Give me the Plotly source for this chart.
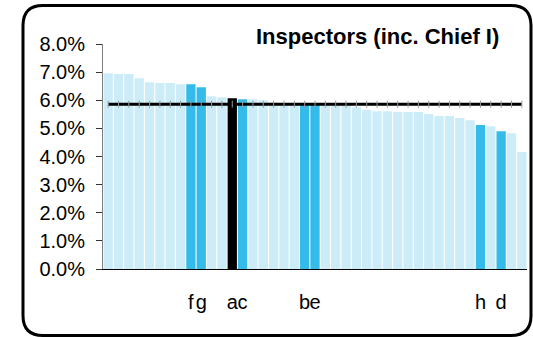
import plotly.graph_objects as go

# Inspector share per unit, sorted high to low (percent)
values = [6.96, 6.93, 6.93, 6.78, 6.64, 6.61, 6.61, 6.57, 6.57, 6.46,
          6.14, 6.11, 6.07, 6.04, 6.04, 6.00, 5.92, 5.90, 5.89, 5.88,
          5.87, 5.84, 5.83, 5.82, 5.75, 5.65, 5.61, 5.61, 5.58, 5.58,
          5.58, 5.51, 5.44, 5.44, 5.37, 5.29, 5.12, 5.08, 4.90, 4.83,
          4.16]
# Labelled units (1-based bar position -> label)
labelled = {9: "f", 10: "g", 13: "a", 14: "c", 20: "b", 21: "e", 37: "h", 39: "d"}
focus_unit = 13
average = 5.86
y_ticks = [0, 1, 2, 3, 4, 5, 6, 7, 8]
y_tick_text = ["0.0%", "1.0%", "2.0%", "3.0%", "4.0%", "5.0%", "6.0%", "7.0%", "8.0%"]
title_text = "Inspectors (inc. Chief I)"

LIGHT = "#CCECF8"
DARK = "#35BBE9"
positions = list(range(1, len(values) + 1))
colors = []
for p in positions:
    if p == focus_unit:
        colors.append("#000000")
    elif p in labelled:
        colors.append(DARK)
    else:
        colors.append(LIGHT)

W, H = 533, 337
ML, MR, MT, MB = 103, 6, 44, 68
PW, PH = W - ML - MR, H - MT - MB


def px(x):
    return (x - ML) / PW


def py(y):
    return (H - MB - y) / PH


fig = go.Figure()
fig.add_trace(go.Bar(x=positions, y=values, marker=dict(color=colors, line=dict(width=0)),
                     hoverinfo="y"))
fig.add_trace(go.Scatter(x=positions, y=[average] * len(positions), mode="lines+markers",
                         line=dict(color="#000000", width=3),
                         marker=dict(symbol="line-ns", size=5,
                                     line=dict(color="#999999", width=1)),
                         hoverinfo="y"))

# rounded frame around the whole chart
L, T, R, B, r = 23, 5.5, 531, 335.5, 20
frame = (f"M {px(L)},{py(T + r)} Q {px(L)},{py(T)} {px(L + r)},{py(T)} "
         f"L {px(R - r)},{py(T)} Q {px(R)},{py(T)} {px(R)},{py(T + r)} "
         f"L {px(R)},{py(B - r)} Q {px(R)},{py(B)} {px(R - r)},{py(B)} "
         f"L {px(L + r)},{py(B)} Q {px(L)},{py(B)} {px(L)},{py(B - r)} Z")
fig.add_shape(type="path", path=frame, xref="paper", yref="paper",
              line=dict(color="#000000", width=3), layer="below")

fig.add_annotation(text=f"<b>{title_text}</b>", xref="paper", yref="paper",
                   x=px(501), y=py(36), xanchor="right", yanchor="middle",
                   showarrow=False, font=dict(size=22, color="#000000"))

tick_pos = sorted(labelled)
fig.update_layout(
    width=W, height=H, margin=dict(l=ML, r=MR, t=MT, b=MB),
    paper_bgcolor="#FFFFFF", plot_bgcolor="#FFFFFF",
    font=dict(family="Liberation Sans, Arial, sans-serif", size=20, color="#000000"),
    showlegend=False, bargap=0.1,
    xaxis=dict(range=[0.5, len(values) + 0.5], tickvals=tick_pos,
               ticktext=[labelled[p] for p in tick_pos], ticks="", tickangle=0,
               showline=True, linecolor="#000000", linewidth=1,
               showgrid=False, zeroline=False, ticklabelstandoff=15,
               tickfont=dict(size=20)),
    yaxis=dict(range=[0, 8], tickvals=y_ticks, ticktext=y_tick_text,
               ticks="outside", ticklen=6, tickcolor="#333333", tickwidth=1,
               showline=True, linecolor="#808080", linewidth=1,
               showgrid=False, zeroline=False, ticklabelstandoff=7,
               tickfont=dict(size=20)),
)

fig.write_html("out.html")
